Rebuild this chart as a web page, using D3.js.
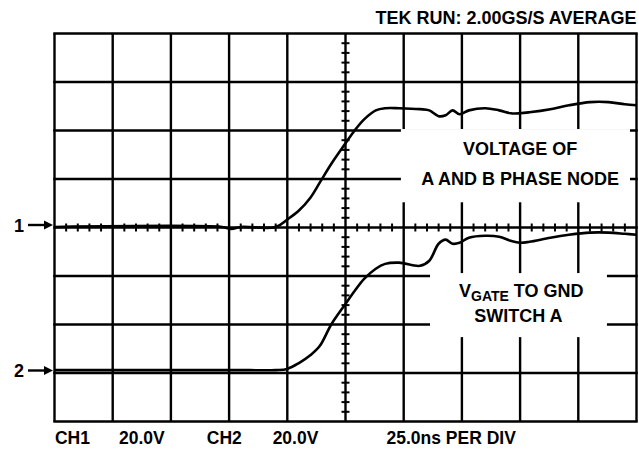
<!DOCTYPE html>
<html>
<head>
<meta charset="utf-8">
<script src="https://cdn.jsdelivr.net/npm/d3@7"></script>
<style>
  body { margin: 0; background: #fff; }
  text { font-family: "Liberation Sans", Arial, sans-serif; font-weight: bold; fill: #000; }
</style>
</head>
<body>
<div id="chart"></div>
<script>
/* scope capture: phase node voltage and gate drive, two channels */

// time axis, ns (25 ns per division, 10 divisions)
const timeNs = [0, 72, 76, 80, 95, 100, 105, 110, 114, 119, 125, 129, 133, 138, 142, 148,
                157, 161, 165, 168, 171, 174, 178, 185, 191, 196, 200, 204, 213, 221, 230, 238, 245, 250];

// CH1: voltage of A and B phase node, volts
const ch1Volts = [0.2, 0.2, -0.6, 0.2, 0.2, 3.3, 7.0, 12.4, 18.6, 26.4, 34.7, 40.1, 44.6, 48.3, 49.2, 49.2,
                  48.8, 48.3, 45.9, 46.3, 48.3, 46.7, 48.3, 49.2, 48.3, 47.1, 47.1, 47.5, 48.8, 50.4, 51.7, 51.7, 50.8, 50.4];

// CH2: VGATE to GND, switch A, volts
const ch2Volts = [1.2, 1.2, 1.2, 1.2, 1.2, 1.7, 4.1, 7.4, 11.2, 20.2, 28.5, 33.9, 38.8, 43.0, 45.0, 45.5,
                  44.2, 46.3, 53.3, 55.0, 53.3, 53.7, 55.8, 56.6, 56.2, 54.5, 53.7, 54.1, 55.8, 57.0, 57.9, 57.9, 57.4, 57.0];

const voltsPerDiv = 20;
const timePerDiv = 25;
const channels = ["1", "2"];
const groundDiv = [0, -3];   // ground marker of each channel, divisions from centre

const headerText = "TEK RUN: 2.00GS/S AVERAGE";
const footerLabels = ["CH1", "20.0V", "CH2", "20.0V", "25.0ns PER DIV"];
const note1 = ["VOLTAGE OF", "A AND B PHASE NODE"];
const note2 = ["TO GND", "SWITCH A"];

const width = 639, height = 451,
      margin = ({top: 33.5, right: 2.5, bottom: 29.5, left: 54.5});

let svg = d3.select("#chart")
    .append("svg")
    .attr("width", width)
    .attr("height", height)
    .attr("viewBox", [0, 0, width, height]);

let x = d3.scaleLinear()
    .domain([0, 10 * timePerDiv])
    .range([margin.left, width - margin.right]);

// y in divisions, -4 .. 4
let y = d3.scaleLinear()
    .domain([-4, 4])
    .range([height - margin.bottom, margin.top]);

// grid
let grid = svg.append("g").attr("stroke", "#000").attr("stroke-width", 2.4);

grid.selectAll(".vline")
    .data(d3.range(0, 10 * timePerDiv + 1, timePerDiv))
    .join("line")
    .attr("x1", d => x(d)).attr("x2", d => x(d))
    .attr("y1", y(4)).attr("y2", y(-4));

grid.selectAll(".hline")
    .data(d3.range(-4, 5))
    .join("line")
    .attr("y1", d => y(d)).attr("y2", d => y(d))
    .attr("x1", x(0) - 1.2).attr("x2", x(250) + 1.2);

// minor ticks on the centre cross
let minor = svg.append("g").attr("stroke", "#000").attr("stroke-width", 2);

minor.selectAll(".xt")
    .data(d3.range(0, 251, 5).filter(d => d % 25 != 0))
    .join("line")
    .attr("x1", d => x(d)).attr("x2", d => x(d))
    .attr("y1", y(0) - 4).attr("y2", y(0) + 4);

minor.selectAll(".yt")
    .data(d3.range(-20, 21).map(d => d / 5).filter(d => d % 1 != 0))
    .join("line")
    .attr("y1", d => y(d)).attr("y2", d => y(d))
    .attr("x1", x(125) - 4).attr("x2", x(125) + 4);

// white boxes behind the notes
svg.append("rect")
    .attr("x", x(148.8)).attr("y", y(2.03))
    .attr("width", x(247.2) - x(148.8)).attr("height", y(0.52) - y(2.03))
    .attr("fill", "#fff");

svg.append("rect")
    .attr("x", x(161.3)).attr("y", y(-0.94))
    .attr("width", x(237.3) - x(161.3)).attr("height", y(-2.26) - y(-0.94))
    .attr("fill", "#fff");

// notes
svg.selectAll(".note1")
    .data(note1)
    .join("text")
    .attr("x", x(200))
    .attr("y", (d, i) => 155 + i * 30)
    .attr("text-anchor", "middle")
    .attr("font-size", 18)
    .text(d => d);

let vg = svg.append("text")
    .attr("x", x(200.5))
    .attr("y", 297)
    .attr("text-anchor", "middle")
    .attr("font-size", 18);
vg.append("tspan").text("V");
vg.append("tspan").attr("font-size", 14).attr("dy", 4).text("GATE");
vg.append("tspan").attr("dy", -4).text(" " + note2[0]);

svg.append("text")
    .attr("x", x(199.3))
    .attr("y", 322)
    .attr("text-anchor", "middle")
    .attr("font-size", 18)
    .text(note2[1]);

// traces
let line = (volts, ch) => d3.line()
    .x(d => x(d))
    .y((d, i) => y(groundDiv[ch] + volts[i] / voltsPerDiv))
    .curve(d3.curveCatmullRom)(timeNs);

svg.selectAll(".trace")
    .data([ch1Volts, ch2Volts])
    .join("path")
    .attr("d", (d, i) => line(d, i))
    .attr("fill", "none")
    .attr("stroke", "#000")
    .attr("stroke-width", 2.6)
    .attr("stroke-linejoin", "round");

// ground markers
let marker = svg.selectAll(".marker")
    .data(channels)
    .join("g")
    .attr("transform", (d, i) => `translate(0, ${y(groundDiv[i]) - 2.5})`);

marker.append("text")
    .attr("x", 14)
    .attr("y", 6.5)
    .attr("font-size", 18)
    .text(d => d);

marker.append("line")
    .attr("x1", 28).attr("x2", 46)
    .attr("stroke", "#000").attr("stroke-width", 2.4);

marker.append("path")
    .attr("d", "M44,-4.5L53,0L44,4.5Z")
    .attr("fill", "#000");

// header and footer
svg.append("text")
    .attr("x", x(250))
    .attr("y", 24)
    .attr("text-anchor", "end")
    .attr("font-size", 18)
    .text(headerText);

const footerAt = [0.2, 27.7, 65.4, 93.7, 142.6];
svg.selectAll(".footer")
    .data(footerLabels)
    .join("text")
    .attr("x", (d, i) => x(footerAt[i]))
    .attr("y", 444)
    .attr("font-size", 17.5)
    .text(d => d);
</script>
</body>
</html>
